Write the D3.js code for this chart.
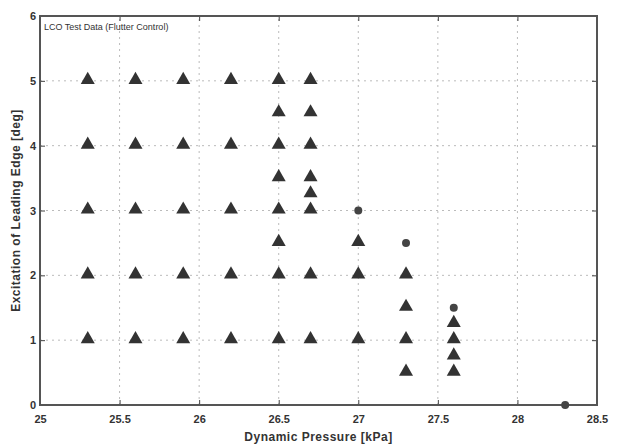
<!DOCTYPE html>
<html>
<head>
<meta charset="utf-8">
<script src="https://cdn.jsdelivr.net/npm/d3@7"></script>
<style>
  body { margin: 0; background: #fff; }
  svg { font-family: "Liberation Sans", Arial, sans-serif; }
</style>
</head>
<body>
<div id="chart"></div>
<script>
// data: LCO test points, [dynamic pressure kPa, excitation deg]
const triPoints = [
  [25.3, 1], [25.3, 2], [25.3, 3], [25.3, 4], [25.3, 5],
  [25.6, 1], [25.6, 2], [25.6, 3], [25.6, 4], [25.6, 5],
  [25.9, 1], [25.9, 2], [25.9, 3], [25.9, 4], [25.9, 5],
  [26.2, 1], [26.2, 2], [26.2, 3], [26.2, 4], [26.2, 5],
  [26.5, 1], [26.5, 2], [26.5, 2.5], [26.5, 3], [26.5, 3.5], [26.5, 4], [26.5, 4.5], [26.5, 5],
  [26.7, 1], [26.7, 2], [26.7, 3], [26.7, 3.25], [26.7, 3.5], [26.7, 4], [26.7, 4.5], [26.7, 5],
  [27.0, 1], [27.0, 2], [27.0, 2.5],
  [27.3, 0.5], [27.3, 1], [27.3, 1.5], [27.3, 2],
  [27.6, 0.5], [27.6, 0.75], [27.6, 1], [27.6, 1.25]
];
const circlePoints = [[27.0, 3], [27.3, 2.5], [27.6, 1.5], [28.3, 0]];
const xTicks = [25, 25.5, 26, 26.5, 27, 27.5, 28, 28.5];
const yTicks = [0, 1, 2, 3, 4, 5, 6];
const title = "LCO Test Data (Flutter Control)";
const xLabel = "Dynamic Pressure [kPa]";
const yLabel = "Excitation of Leading Edge [deg]";

const W = 625, H = 445;
const m = { left: 40, right: 28, top: 16, bottom: 40 };

const svg = d3.select("#chart").append("svg").attr("width", W).attr("height", H);

const x = d3.scaleLinear().domain([25, 28.5]).range([m.left, W - m.right]);
const y = d3.scaleLinear().domain([0, 6]).range([H - m.bottom, m.top]);

// grid
const grid = svg.append("g").attr("stroke", "#bbb").attr("stroke-width", 1).attr("stroke-dasharray", "2,4");
grid.selectAll(".gx").data(xTicks.slice(1, -1)).join("line")
  .attr("x1", d => x(d)).attr("x2", d => x(d)).attr("y1", y(0)).attr("y2", y(6));
grid.selectAll(".gy").data(yTicks.slice(1, -1)).join("line")
  .attr("x1", x(25)).attr("x2", x(28.5)).attr("y1", d => y(d)).attr("y2", d => y(d));

// axes with inner ticks
const axStyle = g => {
  g.select(".domain").remove();
  g.selectAll("line").attr("stroke", "#444");
  g.selectAll("text").attr("fill", "#333").attr("font-size", 11).attr("font-weight", "bold");
};
svg.append("g").attr("transform", `translate(0,${y(0)})`)
  .call(d3.axisBottom(x).tickValues(xTicks).tickSize(-5).tickPadding(10).tickFormat(d3.format("")))
  .call(axStyle);
svg.append("g").attr("transform", `translate(${x(25)},0)`)
  .call(d3.axisLeft(y).tickValues(yTicks).tickSize(-5).tickPadding(4).tickFormat(d3.format("d")))
  .call(axStyle);
svg.append("g").attr("transform", `translate(0,${y(6)})`)
  .call(d3.axisTop(x).tickValues(xTicks).tickSize(-5).tickFormat(""))
  .call(axStyle);
svg.append("g").attr("transform", `translate(${x(28.5)},0)`)
  .call(d3.axisRight(y).tickValues(yTicks).tickSize(-5).tickFormat(""))
  .call(axStyle);

// frame
svg.append("rect")
  .attr("x", x(25)).attr("y", y(6))
  .attr("width", x(28.5) - x(25)).attr("height", y(0) - y(6))
  .attr("fill", "none").attr("stroke", "#555").attr("stroke-width", 2);

// points
const tri = d3.symbol().type(d3.symbolTriangle).size(85);
svg.append("g").selectAll("path").data(triPoints).join("path")
  .attr("d", tri)
  .attr("transform", d => `translate(${x(d[0])},${y(d[1]) - 1})`)
  .attr("fill", "#333");
svg.append("g").selectAll("circle").data(circlePoints).join("circle")
  .attr("cx", d => x(d[0])).attr("cy", d => y(d[1]))
  .attr("r", 4).attr("fill", "#444");

// texts
svg.append("text").attr("x", x(25) + 4).attr("y", y(6) + 14)
  .attr("font-size", 9).attr("fill", "#333").text(title);
svg.append("text").attr("x", (x(25) + x(28.5)) / 2).attr("y", H - 4)
  .attr("text-anchor", "middle").attr("font-size", 12).attr("font-weight", "bold")
  .attr("fill", "#333").attr("letter-spacing", 0.5).text(xLabel);
svg.append("text")
  .attr("transform", `translate(20,${(y(0) + y(6)) / 2}) rotate(-90)`)
  .attr("text-anchor", "middle").attr("font-size", 12).attr("font-weight", "bold")
  .attr("fill", "#333").attr("letter-spacing", 0.5).text(yLabel);
</script>
</body>
</html>
